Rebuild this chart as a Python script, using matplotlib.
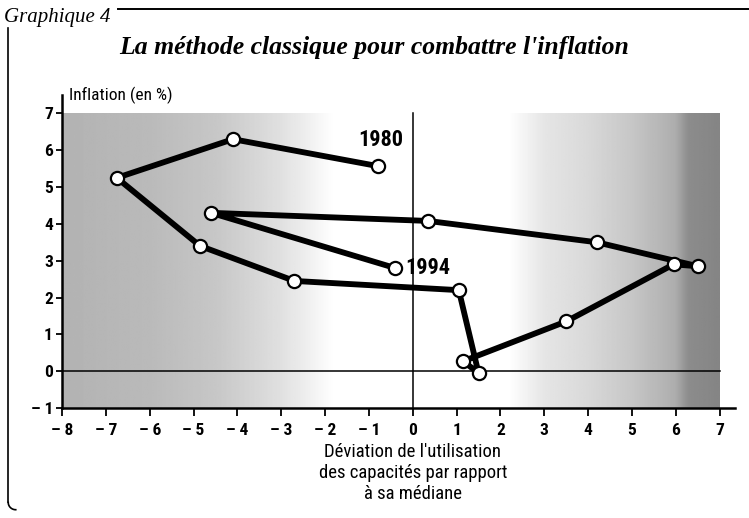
import matplotlib
matplotlib.use("Agg")
import matplotlib.pyplot as plt
import numpy as np
from matplotlib.lines import Line2D
from matplotlib import font_manager

# Capacity utilisation deviation vs inflation, 1980 -> 1994
years = list(range(1980, 1995))
deviation = [-0.8, -4.1, -6.75, -4.85, -2.7, 1.05, 1.5, 1.15, 3.5, 5.95, 6.5, 4.2, 0.35, -4.6, -0.4]
inflation = [5.57, 6.3, 5.25, 3.4, 2.45, 2.2, -0.05, 0.27, 1.35, 2.9, 2.85, 3.5, 4.08, 4.3, 2.8]

xticks = list(range(-8, 8))
yticks = list(range(-1, 8))

title = "La méthode classique pour combattre l'inflation"
xlabel = "Déviation de l'utilisation\ndes capacités par rapport\nà sa médiane"
ylabel = "Inflation (en %)"

# pick a narrow sans if one is there
installed = {f.name for f in font_manager.fontManager.ttflist}
sans = [f for f in ['Liberation Sans Narrow', 'DejaVu Sans Condensed', 'Roboto Condensed']
        if f in installed] + ['Liberation Sans', 'DejaVu Sans']
serif = ['Liberation Serif', 'DejaVu Serif']

fig = plt.figure(figsize=(7.49, 5.18), dpi=100)
ax = fig.add_axes([0.0828, 0.2124, 0.8985, 0.6042])
ax.set_xlim(-8, 7.35)
ax.set_ylim(-1, 7.5)

# background shading (halftone areas in the original), grey level by x
gx = np.linspace(-8, 7, 400)
stops_x = [-8, -6, -4.5, -3, -2.2, -1.8, 2.2, 3.0, 4.0, 5.0, 6.0, 6.3, 7]
stops_v = [0.7, 0.73, 0.78, 0.88, 0.96, 1.0, 1.0, 0.9, 0.85, 0.78, 0.68, 0.55, 0.52]
shade = np.interp(gx, stops_x, stops_v)[None, :]
ax.imshow(shade, extent=(-8, 7, -1, 7), aspect='auto', cmap='gray',
          vmin=0, vmax=1, zorder=0, interpolation='bilinear')

# reference lines
ax.plot([-8, 7], [0, 0], color='black', lw=1.1, zorder=1)
ax.plot([0, 0], [-1, 7], color='black', lw=1.1, zorder=1)

ax.plot(deviation, inflation, color='black', lw=4.2, zorder=2,
        solid_joinstyle='round', solid_capstyle='round')
ax.plot(deviation, inflation, ls='none', marker='o', ms=9.5, mfc='white',
        mec='black', mew=1.6, zorder=3)

ax.text(-0.22, 6.27, str(years[0]), fontsize=16, fontweight='bold', family=sans,
        ha='right', va='center')
ax.text(-0.17, 2.8, str(years[-1]), fontsize=16, fontweight='bold', family=sans,
        ha='left', va='center')

for s in ['top', 'right']:
    ax.spines[s].set_visible(False)
ax.spines['left'].set_linewidth(1.8)
ax.spines['bottom'].set_linewidth(1.8)
ax.set_xticks(xticks)
ax.set_yticks(yticks)
ax.set_xticklabels([str(t).replace('-', '\u2013 ') for t in xticks], family=sans,
                   fontsize=12.5, fontweight='bold')
ax.set_yticklabels([str(t).replace('-', '\u2013 ') for t in yticks], family=sans,
                   fontsize=12.5, fontweight='bold')
ax.tick_params(axis='x', direction='out', length=6, width=1.3, pad=5)
ax.tick_params(axis='y', direction='out', length=4.5, width=1.3, pad=2)

ax.set_xlabel(xlabel, family=sans, fontsize=13.5, linespacing=1.2)
ax.xaxis.set_label_coords((0 + 8) / 15.35, -0.113)
ax.xaxis.label.set_va('top')
ax.text(0.01, 1.0, ylabel, transform=ax.transAxes, family=sans, fontsize=12.5,
        ha='left', va='center')

# frame and headings
fig.text(0.005, 0.985, "Graphique 4", family=serif, style='italic', fontsize=15,
         ha='left', va='top')
fig.add_artist(Line2D([0.158, 1.0], [0.983, 0.983], color='black', lw=1.4))
fig.add_artist(Line2D([0.011, 0.011], [0.945, 0.03], color='black', lw=1.2))
t = np.linspace(np.pi, 1.5 * np.pi, 20)
fig.add_artist(Line2D(0.021 + 0.01 * np.cos(t), 0.03 + 0.014 * np.sin(t),
                      color='black', lw=1.2))
fig.text(0.5, 0.908, title, family=serif, style='italic', fontweight='bold',
         fontsize=18.5, ha='center', va='center')

fig.savefig("out.png", dpi=100)
